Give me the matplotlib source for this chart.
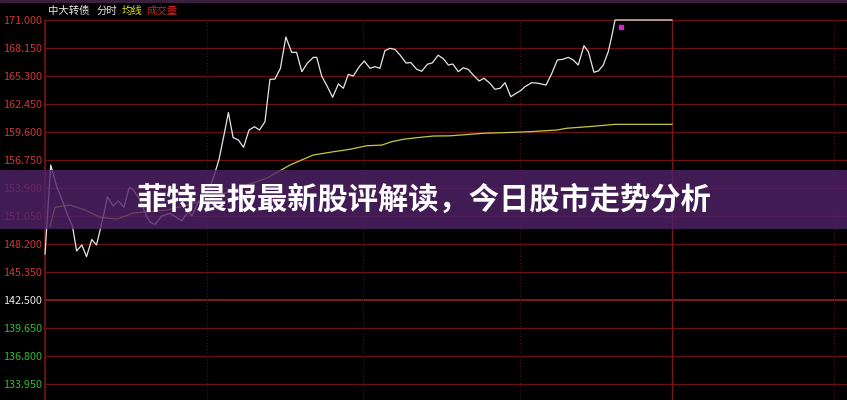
import matplotlib
matplotlib.use('Agg')
import matplotlib.pyplot as plt
from matplotlib.patches import Rectangle

plt.rcParams['font.family'] = ['Noto Sans CJK SC', 'DejaVu Sans']

# minutes since open / price
price_t = [0, 2.2, 4.5, 7.0, 8.9, 10.5, 12.1, 14.1, 15.9, 17.9, 19.7, 21.1, 22.6, 23.9,
           26.1, 28.1, 30.2, 32.3, 33.8, 36.4, 38.9, 40.5, 42.1, 44.7, 47.8, 52.3, 54.9,
           56.2, 58.7, 61.2, 64.4, 66.6, 68.9, 70.2, 72.0, 74.0, 76.0, 78.1, 80.2, 82.1,
           84.2, 86.1, 88.0, 90.1, 92.2, 94.4, 96.3, 98.3, 100.4, 102.7, 104.0, 105.9,
           108.4, 110.1, 112.3, 114.2, 116.1, 118.0, 120.3, 122.2, 124.4, 126.3, 128.2,
           130.1, 132.1, 134.0, 135.9, 138.2, 140.0, 142.3, 144.2, 146.4, 148.3, 150.5,
           152.5, 154.4, 156.1, 158.2, 160.1, 162.0, 163.9, 166.2, 168.0, 170.3, 172.2,
           174.2, 176.1, 178.3, 179.9, 182.0, 183.7, 186.3, 188.8, 191.8, 194.0, 196.1,
           198.2, 200.3, 202.2, 204.1, 206.3, 208.0, 210.1, 211.8, 213.7, 215.6, 216.9,
           218.2, 240]
price = [147.18, 156.24, 154.03, 152.37, 150.98, 150.03, 147.49, 148.10, 146.91, 148.66,
         148.10, 149.62, 151.36, 153.01, 152.07, 152.58, 151.93, 153.97, 153.70, 152.68,
         150.98, 150.37, 150.20, 151.05, 151.32, 150.57, 151.49, 151.05, 152.50, 152.85,
         154.89, 156.80, 159.80, 161.58, 159.04, 158.79, 158.04, 159.80, 160.14, 159.80,
         160.65, 164.96, 164.99, 166.08, 169.27, 167.71, 167.71, 165.74, 166.59, 167.20,
         167.20, 165.30, 164.05, 163.13, 164.49, 164.05, 165.47, 165.30, 166.25, 166.83,
         166.08, 166.25, 166.08, 167.88, 168.12, 168.00, 167.44, 166.62, 166.67, 165.98,
         165.78, 166.50, 166.64, 167.42, 167.05, 166.42, 166.52, 165.74, 166.14, 165.98,
         165.40, 164.79, 165.07, 164.56, 163.95, 164.05, 164.62, 163.19, 163.47, 163.80,
         164.21, 164.62, 164.56, 164.38, 165.57, 166.93, 167.00, 167.20, 166.93, 166.42,
         168.38, 167.77, 165.68, 165.81, 166.42, 167.77, 169.30, 171.00, 171.00]

avg_t = [1.9, 3.8, 9.6, 15.3, 21.1, 27.6, 33.7, 46.7, 59.3, 72.0, 85.0, 93.8, 98.8, 102.7,
         110.4, 116.7, 123.1, 128.9, 132.7, 137.2, 142.3, 148.6, 155.0, 167.8, 175.4,
         185.6, 195.9, 199.7, 211.2, 218.2, 240]
avg = [149.96, 151.93, 152.17, 151.66, 150.92, 150.74, 151.36, 151.66, 152.50, 153.70,
       154.92, 156.24, 156.82, 157.26, 157.59, 157.84, 158.20, 158.27, 158.61, 158.86,
       159.02, 159.19, 159.21, 159.47, 159.53, 159.63, 159.80, 159.98, 160.21, 160.38,
       160.38]

levels = [171.0, 168.15, 165.3, 162.45, 159.6, 156.75, 153.9, 151.05, 148.2, 145.35,
          142.5, 139.65, 136.8, 133.95]
prev_close = 142.5
dot_t, dot_p = 220.5, 170.26
dotted_t = [62, 121.7, 181.8, 302]
now_t = 240

title = '菲特晨报最新股评解读，今日股市走势分析'

W, H = 847, 400
fig = plt.figure(figsize=(W / 100, H / 100), dpi=100, facecolor='black')
ax = fig.add_axes([45 / W, 0, 1 - 45 / W, 1])
ax.set_facecolor('black')
px = 2.85 / 28  # price per pixel
ax.set_ylim(171 - 380 * px, 171 + 20 * px)
ax.set_xlim(0, (W - 45) / 2.6125)
for s in ax.spines.values():
    s.set_visible(False)

grid_red = '#6a1212'
for lv in levels:
    if lv == prev_close:
        ax.axhline(lv, color='#8c1c1c', lw=1.3, zorder=1)
    else:
        ax.axhline(lv, color=grid_red, lw=0.9, zorder=1)
ax.vlines(dotted_t, ax.get_ylim()[0], 171, colors='#5a1010', linestyles=(0, (1, 2)), lw=0.8, zorder=1)
ax.vlines([now_t], ax.get_ylim()[0], 171, colors='#7a1616', lw=1.0, zorder=1)
ax.vlines([0], ax.get_ylim()[0], 171, colors='#7a1616', lw=1.2, zorder=1, clip_on=False)

ax.plot(avg_t, avg, color='#c8c83c', lw=0.9, zorder=3)
ax.plot(price_t, price, color='#e6e6e6', lw=0.9, zorder=4, clip_on=False)
ax.plot([dot_t], [dot_p], 's', color='#d028d0', ms=2.2, zorder=5)

ax.set_xticks([])
ax.set_yticks(levels)
ax.set_yticklabels([f'{v:.3f}' for v in levels], fontsize=7.8)
ax.tick_params(axis='y', length=0, pad=2)
for lab, lv in zip(ax.get_yticklabels(), levels):
    if lv > prev_close:
        lab.set_color('#d23535')
    elif lv == prev_close:
        lab.set_color('#e8e8e8')
    else:
        lab.set_color('#2ec02e')

# header
hy = 1 - 11 / H
fig.text(48 / W, hy, '中大转债', color='#e8e8e8', fontsize=7.5, va='center')
fig.text(97 / W, hy, '分时', color='#e8e8e8', fontsize=7.5, va='center')
fig.text(122 / W, hy, '均线', color='#e0e020', fontsize=7.5, va='center')
fig.text(147 / W, hy, '成交量', color='#d02020', fontsize=7.5, va='center')
fig.add_artist(Rectangle((0, 1 - 2 / H), 1, 2 / H, transform=fig.transFigure,
                         color='#3a203c', zorder=5))

# banner
fig.add_artist(Rectangle((0, 1 - 229 / H), 1, 59 / H, transform=fig.transFigure,
                         color='#52226a', alpha=0.8, lw=0, zorder=5))
fig.text(424 / W, 1 - 200 / H, title, color='white', fontsize=21.8, fontweight='heavy',
         ha='center', va='center', zorder=6)

fig.savefig('out.png', dpi=100, facecolor='black')
